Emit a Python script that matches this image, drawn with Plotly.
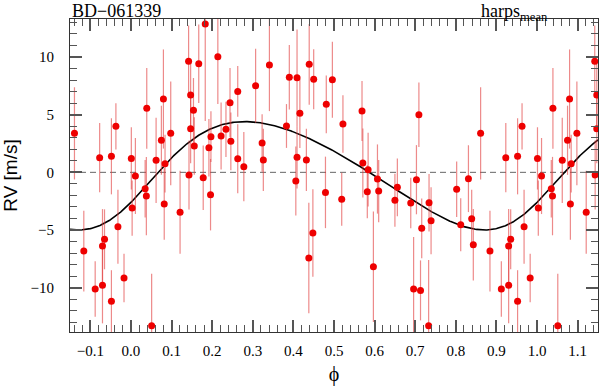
import numpy as np
import plotly.graph_objects as go

# ---- data ----
phase = [0.001, 0.011, 0.039, 0.062, 0.075, 0.080, 0.084, 0.098, 0.142, 0.147,
         0.154, 0.147, 0.143, 0.156, 0.167, 0.183, 0.178, 0.192, 0.197, 0.214,
         0.222, 0.234, 0.244, 0.246, 0.263, 0.263, 0.278, 0.307, 0.323, 0.326,
         0.341, 0.383, 0.390, 0.409, 0.416, 0.409, 0.432, 0.439, 0.450, 0.481,
         0.496, 0.522, 0.569, 0.571, 0.584, 0.709, 0.861, 0.923, 0.952, 0.963,
         0.003, 0.035, 0.038, 0.082, 0.121, 0.196, 0.051,
         0.406, 0.438, 0.448, 0.479, 0.519, 0.582, 0.597, 0.607, 0.610, 0.650, 0.656,
         0.689, 0.703, 0.716, 0.734, 0.739, 0.696, 0.713, 0.733, 0.802, 0.831,
         0.812, 0.839, 0.843, 0.884, 0.912, 0.930, 0.930, 0.935, 0.952, 0.968, 0.983]
rv = [1.21, -0.32, 5.55, 1.04, 2.78, 6.36, 0.75, 3.38, 9.63, 6.70,
      5.38, 3.78, -0.23, 2.28, 9.42, 12.86, -0.47, 2.13, 3.09, 10.03,
      3.15, 3.73, 6.04, 2.69, 7.02, 1.18, 0.49, 7.51, 2.54, 1.07,
      9.31, 4.02, 8.24, 8.20, 5.12, 1.30, 1.07, 9.37, 8.07, 5.90,
      8.03, 4.19, 5.32, 0.81, 0.23, 5.00, 3.38, 1.27, 1.39, 3.99,
      -3.10, -1.42, -2.06, -2.75, -3.47, -1.94, -13.3,
      -0.75, -7.43, -5.26, -1.74, -2.34, -1.68, -8.19, -0.58, -1.62, -2.43, -1.30,
      -2.66, -0.64, -4.86, -2.64, -4.20, -10.12, -10.24, -13.3, -1.47, -0.55,
      -4.54, -4.02, -6.28, -6.83, -10.12, -9.80, -6.39, -5.81, -11.19, -4.72, -9.17]
err = [2.7, 3.3, 3.5, 3.7, 3.0, 4.3, 2.5, 4.5, 3.1, 2.8,
       2.8, 3.0, 3.0, 2.5, 3.4, 8.4, 2.8, 2.5, 2.2, 4.1,
       2.9, 2.4, 3.0, 2.5, 2.2, 3.0, 3.0, 3.2, 2.5, 2.7,
       4.0, 1.9, 2.8, 4.2, 3.0, 2.7, 2.7, 3.5, 2.6, 2.5,
       3.3, 2.5, 2.6, 3.0, 3.2, 2.8, 4.0, 3.0, 3.3, 2.0,
       2.4, 2.5, 3.4, 3.1, 3.6, 3.1, 4.5,
       3.0, 4.8, 3.8, 3.1, 2.3, 2.3, 4.8, 3.0, 2.7, 2.3, 2.5,
       2.2, 3.0, 2.6, 2.5, 2.9, 4.5, 2.6, 5.7, 2.4, 2.9,
       2.3, 2.5, 3.1, 3.5, 2.4, 3.3, 3.2, 2.6, 2.7, 3.2, 2.1]

# Keplerian model parameters (phase units, P = 1)
K_amp = 4.7
ecc = 0.155
omega_deg = 245.6
t_peri = 0.01
gamma = 0.0

x_range = [-0.15, 1.15]
y_range = [-13.85, 13.3]

# ---- phase-folded copies to fill [-0.15, 1.15] ----
ph = np.array(phase)
v = np.array(rv)
e = np.array(err)
xs, ys, es = [ph], [v], [e]
m_lo = ph - 1 >= x_range[0]
xs.append(ph[m_lo] - 1); ys.append(v[m_lo]); es.append(e[m_lo])
m_hi = ph + 1 <= x_range[1]
xs.append(ph[m_hi] + 1); ys.append(v[m_hi]); es.append(e[m_hi])
X = np.concatenate(xs); Y = np.concatenate(ys); E = np.concatenate(es)

# ---- model curve ----
def kepler_rv(t):
    M = 2 * np.pi * (t - t_peri)
    Ea = M.copy()
    for _ in range(50):
        Ea = Ea - (Ea - ecc * np.sin(Ea) - M) / (1 - ecc * np.cos(Ea))
    nu = 2 * np.arctan2(np.sqrt(1 + ecc) * np.sin(Ea / 2), np.sqrt(1 - ecc) * np.cos(Ea / 2))
    w = np.radians(omega_deg)
    return K_amp * (np.cos(nu + w) + ecc * np.cos(w)) + gamma

tc = np.linspace(x_range[0], x_range[1], 600)
vc = kepler_rv(tc)

fig = go.Figure()
fig.add_trace(go.Scatter(x=tc, y=vc, mode="lines",
                         line=dict(color="black", width=1.6), hoverinfo="skip"))
fig.add_trace(go.Scatter(
    x=X, y=Y, mode="markers",
    marker=dict(color="#ee0000", size=7, line=dict(width=0)),
    error_y=dict(type="data", array=E, visible=True, color="rgba(225,60,60,0.6)",
                 thickness=1.2, width=0),
))

fig.add_shape(type="line", xref="paper", x0=0, x1=1, yref="y", y0=0, y1=0,
              line=dict(color="#666666", width=1, dash="6px,4px"), layer="below")

serif = "Liberation Serif, Times New Roman, serif"
axis_common = dict(showline=True, linecolor="#333333", linewidth=1.2, mirror="allticks",
                   ticks="inside", ticklen=12, tickwidth=1.5, tickcolor="#555555",
                   showgrid=False, zeroline=False,
                   tickfont=dict(family=serif, size=15, color="black"))

fig.update_xaxes(range=x_range, tick0=0, dtick=0.1, tickformat=".1f",
                 minor=dict(dtick=0.02, ticks="inside", ticklen=7, tickwidth=1.2,
                            tickcolor="#555555", showgrid=False),
                 title=dict(text="ϕ", font=dict(family=serif, size=20, color="black"), standoff=8),
                 ticklabelstandoff=5,
                 **axis_common)
fig.update_yaxes(range=y_range, tick0=0, dtick=5,
                 minor=dict(dtick=1, ticks="inside", ticklen=7, tickwidth=1.2,
                            tickcolor="#555555", showgrid=False),
                 title=dict(text="RV [m/s]", font=dict(family="Liberation Sans, Arial, sans-serif",
                                                       size=19, color="black"),
                            standoff=12),
                 ticklabelstandoff=12,
                 **axis_common)

fig.add_annotation(text="BD\u2212061339", xref="paper", yref="paper", x=0, y=1,
                   xanchor="left", yanchor="top", showarrow=False, yshift=20,
                   font=dict(family=serif, size=18, color="black"))
fig.add_annotation(text="harps<sub>mean</sub>", xref="paper", yref="paper", x=0.91, y=1,
                   xanchor="right", yanchor="top", showarrow=False, yshift=20,
                   font=dict(family=serif, size=18, color="black"))

fig.update_layout(width=600, height=388, showlegend=False,
                  margin=dict(l=70, r=2, t=19, b=56),
                  plot_bgcolor="white", paper_bgcolor="white")

fig.write_html("out.html", config={"displayModeBar": False},
               post_script="document.body.style.margin='0';document.body.style.overflow='hidden';")
